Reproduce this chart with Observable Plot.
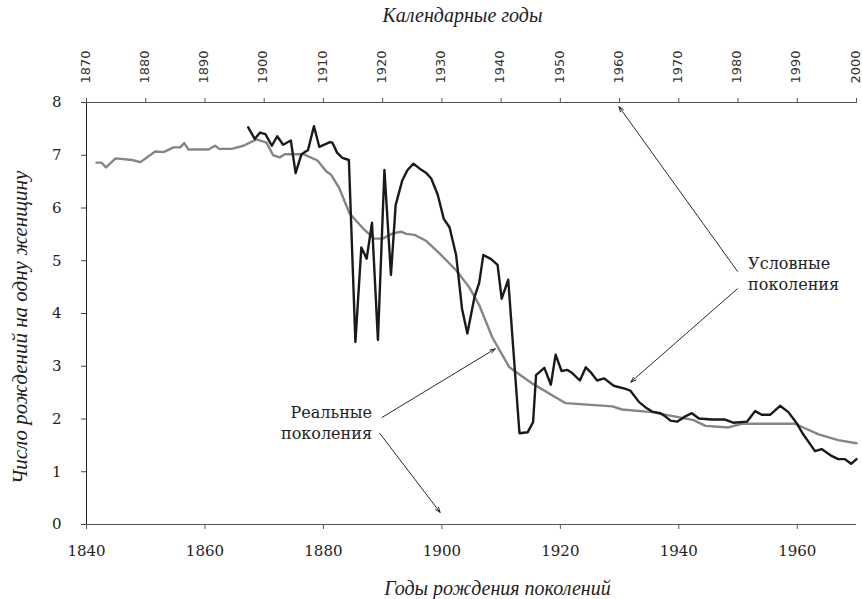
<!DOCTYPE html>
<html>
<head>
<meta charset="utf-8">
<script src="https://cdn.jsdelivr.net/npm/d3@7"></script>
<script src="https://cdn.jsdelivr.net/npm/@observablehq/plot@0.6"></script>
<style>
  html, body { margin: 0; padding: 0; background: #fff; }
  #chart svg { display: block; }
</style>
</head>
<body>
<div id="chart"></div>
<script>
// Условные поколения (grey): [год рождения поколения, число рождений]
const conditional = [
  [1841.7, 6.86], [1842.5, 6.86], [1843.3, 6.77], [1844.9, 6.94], [1847.7, 6.91], [1849.1, 6.87],
  [1851.6, 7.07], [1853.0, 7.06], [1854.7, 7.15], [1855.8, 7.15], [1856.5, 7.23], [1857.2, 7.11],
  [1860.6, 7.11], [1861.7, 7.18], [1862.4, 7.12], [1864.5, 7.12], [1866.5, 7.18], [1868.7, 7.30],
  [1870.4, 7.24], [1871.5, 7.00], [1872.6, 6.96], [1873.5, 7.02], [1876.6, 7.02], [1879.0, 6.90],
  [1880.5, 6.69], [1881.3, 6.63], [1882.7, 6.37], [1884.4, 5.90], [1886.7, 5.61], [1888.6, 5.42],
  [1890.0, 5.42], [1891.7, 5.52], [1893.1, 5.55], [1894.0, 5.51], [1895.4, 5.49], [1897.3, 5.38],
  [1899.6, 5.14], [1902.4, 4.82], [1904.6, 4.50], [1906.3, 4.16], [1908.5, 3.55], [1911.4, 2.98],
  [1915.3, 2.67], [1920.9, 2.30], [1928.8, 2.24], [1930.4, 2.18], [1935.5, 2.13], [1942.5, 1.98],
  [1944.5, 1.87], [1948.4, 1.84], [1950.6, 1.91], [1959.6, 1.91], [1963.6, 1.71], [1966.9, 1.60],
  [1970.0, 1.54]
];

// Реальные поколения (black)
const real = [
  [1867.3, 7.53], [1868.4, 7.31], [1869.3, 7.43], [1870.2, 7.40], [1871.3, 7.18], [1872.2, 7.36],
  [1873.2, 7.20], [1874.5, 7.28], [1875.3, 6.66], [1876.3, 7.02], [1877.4, 7.10], [1878.4, 7.55],
  [1879.3, 7.16], [1881.1, 7.25], [1881.5, 7.24], [1882.3, 7.05], [1883.2, 6.95], [1884.3, 6.91],
  [1885.4, 3.46], [1886.4, 5.25], [1887.3, 5.04], [1888.2, 5.72], [1889.2, 3.50], [1890.3, 6.72],
  [1891.4, 4.73], [1892.2, 6.06], [1893.3, 6.52], [1894.2, 6.72], [1895.2, 6.84], [1896.2, 6.75],
  [1897.3, 6.67], [1898.2, 6.56], [1899.3, 6.25], [1900.3, 5.80], [1901.3, 5.63], [1902.4, 5.11],
  [1903.4, 4.09], [1904.3, 3.62], [1905.5, 4.31], [1906.3, 4.58], [1907.0, 5.11], [1908.3, 5.03],
  [1909.4, 4.92], [1910.1, 4.28], [1911.2, 4.64], [1913.1, 1.73], [1914.5, 1.75], [1915.4, 1.94],
  [1915.9, 2.83], [1917.3, 2.97], [1918.4, 2.65], [1919.2, 3.22], [1920.2, 2.91], [1921.2, 2.93],
  [1922.0, 2.87], [1923.3, 2.73], [1924.3, 2.98], [1925.1, 2.89], [1926.2, 2.73], [1927.4, 2.77],
  [1929.0, 2.63], [1931.0, 2.57], [1931.8, 2.54], [1933.3, 2.32], [1934.4, 2.22], [1935.5, 2.14],
  [1936.9, 2.11], [1937.7, 2.05], [1938.6, 1.97], [1939.7, 1.95], [1941.1, 2.05], [1942.2, 2.11],
  [1943.4, 2.01], [1944.5, 2.00], [1945.6, 1.99], [1947.8, 1.99], [1949.2, 1.93], [1951.5, 1.95],
  [1952.9, 2.15], [1954.0, 2.08], [1955.4, 2.08], [1957.1, 2.25], [1958.5, 2.13], [1959.9, 1.92],
  [1961.0, 1.71], [1963.0, 1.39], [1964.1, 1.43], [1965.8, 1.30], [1966.9, 1.24], [1968.0, 1.24],
  [1969.1, 1.15], [1970.0, 1.24]
];

// Tick labels
const cohortTicks = [1840, 1860, 1880, 1900, 1920, 1940, 1960];
const calendarTicks = [1870, 1880, 1890, 1900, 1910, 1920, 1930, 1940, 1950, 1960, 1970, 1980, 1990, 2000];
const calendarOffset = 30; // calendar year = cohort year + 30
const yTicks = [0, 1, 2, 3, 4, 5, 6, 7, 8];
const yMax = 8;

// Titles
const topTitle = "Календарные годы";
const bottomTitle = "Годы рождения поколений";
const yTitle = "Число рождений на одну женщину";

// Annotations (data coordinates)
const labelConditional = {x: 1951.7, y: 4.77, text: "Условные\nпоколения"};
const labelReal = {x: 1888.2, y: 1.94, text: "Реальные\nпоколения"};
const arrows = [
  {x1: 1949.9, y1: 4.80, x2: 1929.9, y2: 7.92},
  {x1: 1949.9, y1: 4.47, x2: 1931.9, y2: 2.70},
  {x1: 1889.9, y1: 2.03, x2: 1909.0, y2: 3.33},
  {x1: 1889.5, y1: 1.73, x2: 1899.7, y2: 0.23}
];

const tickFont = "DejaVu Serif, serif";
const titleFont = "Liberation Serif, serif";
const labelStyle = {
  x: "x", y: "y", text: "text", lineAnchor: "middle", lineHeight: 1.28, fontSize: 16,
  fontFamily: tickFont, fill: "#222", style: "letter-spacing: 1.8px"
};

const chart = Plot.plot({
  width: 862,
  height: 599,
  marginTop: 102,
  marginBottom: 75,
  marginLeft: 86,
  marginRight: 6,
  x: {domain: [1840, 1970]},
  y: {domain: [0, 8]},
  style: {background: "#fff", color: "#222"},
  marks: [
    Plot.ruleY([0, 8], {stroke: "#555", strokeWidth: 1.2}),
    Plot.ruleX([1840], {stroke: "#222", strokeWidth: 1}),
    Plot.axisY(yTicks, {
      tickSize: 5, tickPadding: 20, label: null, fontSize: 15,
      fontFamily: tickFont, tickFormat: d => String(d), stroke: "#444", fill: "#222"
    }),
    Plot.axisX(cohortTicks, {
      anchor: "bottom", tickSize: 5, tickPadding: 16, label: null, fontSize: 15,
      fontFamily: tickFont, tickFormat: d => String(d), stroke: "#555"
    }),
    Plot.axisX(calendarTicks.map(d => d - calendarOffset), {
      anchor: "top", tickSize: 5, label: null, tickFormat: () => "", stroke: "#555"
    }),
    Plot.text(calendarTicks, {
      x: d => d - calendarOffset, y: () => yMax, dx: -1, dy: -19, rotate: -90,
      textAnchor: "start", lineAnchor: "middle", text: d => String(d),
      fontSize: 13, fontFamily: "DejaVu Sans, sans-serif", fill: "#333"
    }),
    Plot.line(conditional, {x: d => d[0], y: d => d[1], stroke: "#858585", strokeWidth: 2.4}),
    Plot.line(real, {x: d => d[0], y: d => d[1], stroke: "#1a1a1a", strokeWidth: 2.4}),
    Plot.arrow(arrows, {
      x1: "x1", y1: "y1", x2: "x2", y2: "y2",
      stroke: "#111", strokeWidth: 0.9, headLength: 9, headAngle: 40
    }),
    Plot.text([labelConditional], {...labelStyle, textAnchor: "start"}),
    Plot.text([labelReal], {...labelStyle, textAnchor: "end"}),
    Plot.text([topTitle], {
      frameAnchor: "top", dx: -9, dy: -87, lineAnchor: "middle", textAnchor: "middle",
      fontSize: 20, fontStyle: "italic", fontFamily: titleFont, fill: "#222"
    }),
    Plot.text([bottomTitle], {
      frameAnchor: "bottom", dx: 26, dy: 64, lineAnchor: "middle", textAnchor: "middle",
      fontSize: 20, fontStyle: "italic", fontFamily: titleFont, fill: "#222"
    }),
    Plot.text([yTitle], {
      frameAnchor: "left", dx: -66, dy: 14, rotate: -90, lineAnchor: "middle", textAnchor: "middle",
      fontSize: 21, fontStyle: "italic", fontFamily: titleFont, fill: "#222"
    })
  ]
});

document.getElementById("chart").appendChild(chart);
</script>
</body>
</html>
